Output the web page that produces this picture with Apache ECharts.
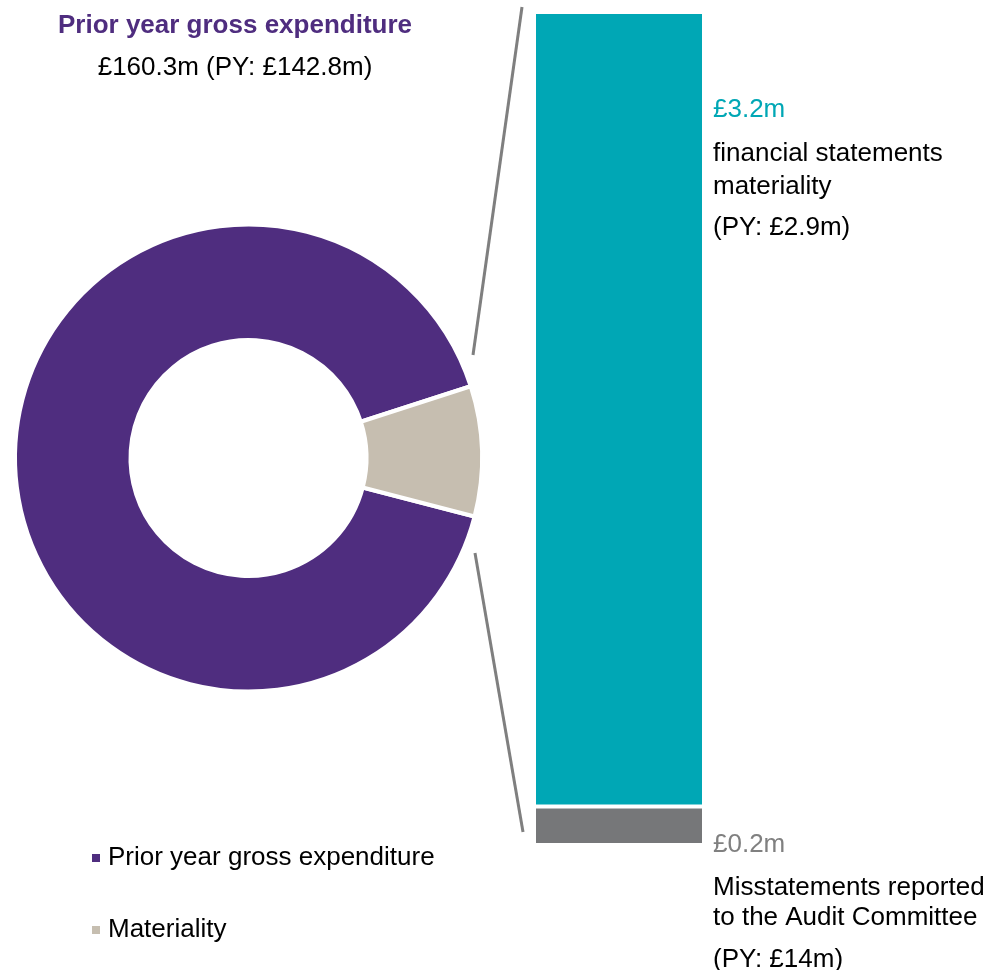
<!DOCTYPE html>
<html>
<head>
<meta charset="utf-8">
<script src="https://cdn.jsdelivr.net/npm/echarts@6/dist/echarts.min.js"></script>
<style>
html,body{margin:0;padding:0;background:#fff;}
#chart{width:988px;height:970px;}
</style>
</head>
<body>
<div id="chart"></div>
<script>
// ---- data ----
const pieNames = ['Prior year gross expenditure', 'Materiality'];
const pieShares = [91, 9];
const barCategories = ['Materiality'];
const misstatementValues = [0.155];
const materialityValues = [3.2];
const titleText = 'Prior year gross expenditure';
const subtitleText = '£160.3m (PY: £142.8m)';
const topLabelLines = ['£3.2m', 'financial statements', 'materiality', '(PY: £2.9m)'];
const bottomLabelLines = ['£0.2m', 'Misstatements reported', 'to the Audit Committee', '(PY: £14m)'];

// ---- styling ----
const FONT = '"Liberation Sans", Arial, sans-serif';
const PURPLE = '#4F2D7F', BEIGE = '#C6BEB0', TEAL = '#00A7B5', GREY = '#767779', LABELGREY = '#808080';

const chart = echarts.init(document.getElementById('chart'), null, {renderer: 'canvas'});

function txt(x, y, text, color, weight) {
  return {type: 'text', x: x, y: y, style: {text: text, fill: color, font: (weight || 'normal') + ' 26px ' + FONT, textAlign: 'left', textVerticalAlign: 'middle'}};
}

const graphics = [
  {type: 'line', shape: {x1: 522, y1: 7, x2: 473, y2: 355}, style: {stroke: '#7F7F7F', lineWidth: 3}},
  {type: 'line', shape: {x1: 475, y1: 553, x2: 523, y2: 832}, style: {stroke: '#7F7F7F', lineWidth: 3}},
  txt(713, 110, topLabelLines[0], TEAL),
  txt(713, 154, topLabelLines[1], '#000'),
  txt(713, 187, topLabelLines[2], '#000'),
  txt(713, 228, topLabelLines[3], '#000'),
  txt(713, 845, bottomLabelLines[0], LABELGREY),
  txt(713, 888, bottomLabelLines[1], '#000'),
  txt(713, 918, bottomLabelLines[2], '#000'),
  txt(713, 960, bottomLabelLines[3], '#000')
];

const option = {
  animation: false,
  backgroundColor: '#fff',
  title: [
    {text: titleText, left: 235, top: 13, textAlign: 'center', padding: 0,
     textStyle: {fontFamily: FONT, fontSize: 26, fontWeight: 'bold', color: PURPLE, lineHeight: 26}},
    {text: subtitleText, left: 235, top: 55, textAlign: 'center', padding: 0,
     textStyle: {fontFamily: FONT, fontSize: 26, fontWeight: 'normal', color: '#000', lineHeight: 26}}
  ],
  legend: {
    orient: 'vertical', left: 90, top: 845, padding: 0,
    itemWidth: 10, itemHeight: 10, itemGap: 46, icon: 'rect',
    data: pieNames,
    textStyle: {fontFamily: FONT, fontSize: 26, color: '#000', lineHeight: 26, padding: [0, 0, 0, 2]}
  },
  grid: {left: 534, top: 12, width: 170, height: 833, containLabel: false},
  xAxis: {type: 'category', data: barCategories, show: false},
  yAxis: {type: 'value', min: 0, max: 'dataMax', show: false},
  graphic: graphics,
  series: [
    {
      type: 'pie', center: [248.5, 458], radius: [118, 233.5],
      startAngle: -14.5, clockwise: true, silent: true,
      label: {show: false}, labelLine: {show: false},
      itemStyle: {borderColor: '#fff', borderWidth: 4},
      data: pieNames.map((n, i) => ({name: n, value: pieShares[i], itemStyle: {color: [PURPLE, BEIGE][i]}}))
    },
    {
      type: 'bar', name: 'Misstatements reported', stack: 'm', barWidth: 170, silent: true,
      itemStyle: {color: GREY, borderColor: '#fff', borderWidth: 2},
      data: misstatementValues
    },
    {
      type: 'bar', name: 'Financial statements materiality', stack: 'm', barWidth: 170, silent: true,
      itemStyle: {color: TEAL, borderColor: '#fff', borderWidth: 2},
      data: materialityValues
    }
  ]
};
chart.setOption(option);
</script>
</body>
</html>
